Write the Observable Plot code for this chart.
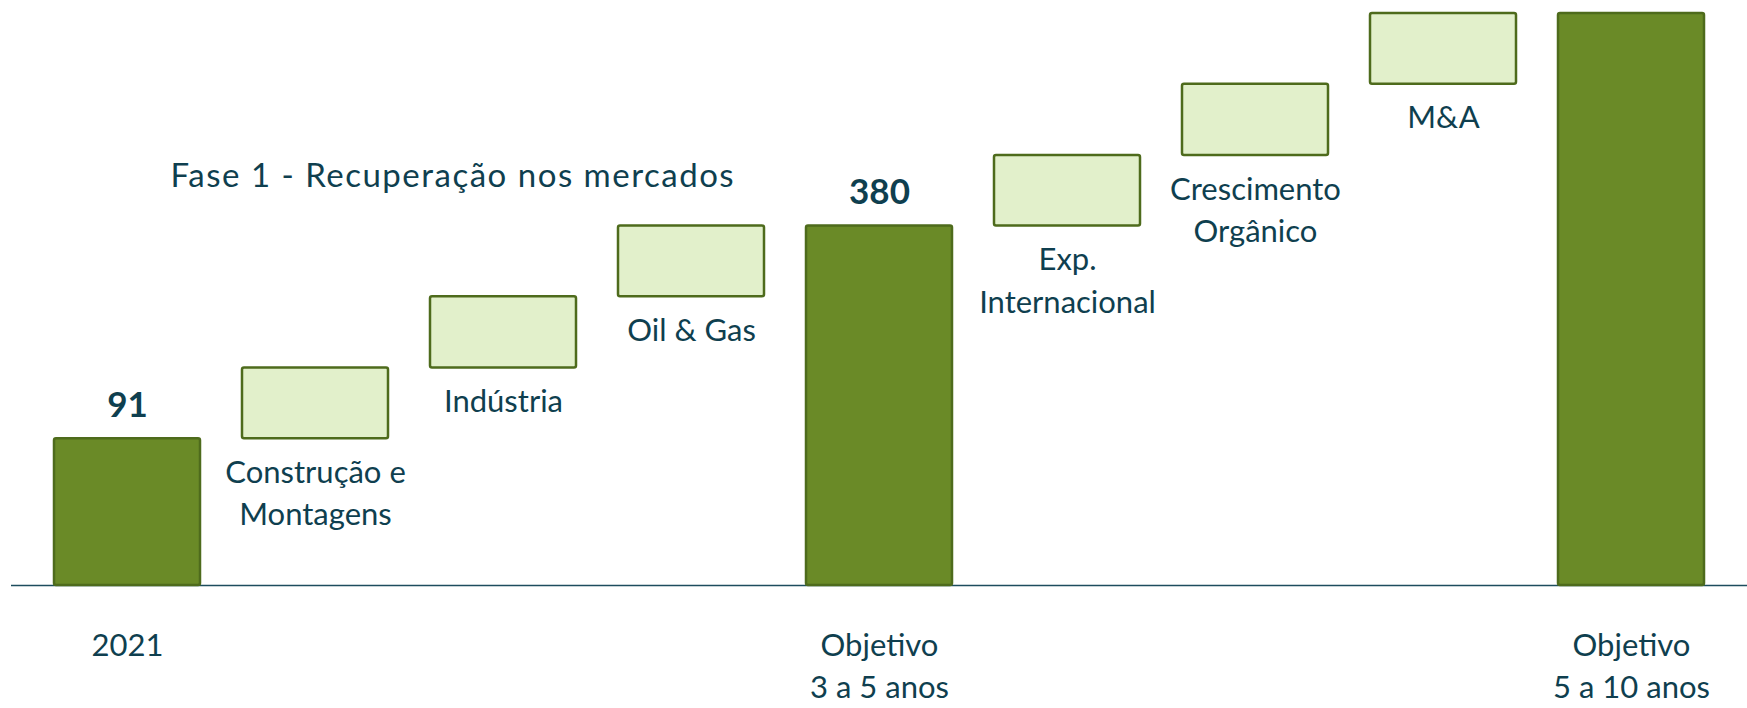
<!DOCTYPE html>
<html>
<head>
<meta charset="utf-8">
<script src="https://cdn.jsdelivr.net/npm/d3@7"></script>
<script src="https://cdn.jsdelivr.net/npm/@observablehq/plot@0.6"></script>
<style>
  html, body { margin: 0; padding: 0; background: #fff; }
  #chart svg { display: block; }
</style>
</head>
<body>
<div id="chart"></div>
<script>
// ---- data ----
const categories = ["2021", "Construção e Montagens", "Indústria", "Oil & Gas", "Objetivo 3 a 5 anos",
  "Exp. Internacional", "Crescimento Orgânico", "M&A", "Objetivo 5 a 10 anos"];
const kinds = ["total", "step", "step", "step", "total", "step", "step", "step", "total"];
const values = [91, 96, 97, 96, 380, 96, 97, 96, 669];
const valueLabels = ["91", "", "", "", "380", "", "", "", ""];
const axisLabels = ["2021", "", "", "", "Objetivo\n3 a 5 anos", "", "", "", "Objetivo\n5 a 10 anos"];
const stepLabels = ["", "Construção e\nMontagens", "Indústria", "Oil & Gas", "",
  "Exp.\nInternacional", "Crescimento\nOrgânico", "M&A", ""];
const phaseTitle = "Fase 1 - Recuperação nos mercados";

// ---- build waterfall table ----
const yFloor = -108.5;
let running = 0;
const rows = categories.map((c, i) => {
  let y1, y2;
  if (kinds[i] === "total") { y1 = yFloor; y2 = values[i]; running = values[i]; }
  else { y1 = running; y2 = running + values[i]; running = y2; }
  return {cat: c, kind: kinds[i], y1, y2, value: values[i],
    valueLabel: valueLabels[i], axisLabel: axisLabels[i], stepLabel: stepLabels[i]};
});

const textColor = "#0f3f4f";
const font = "Lato, 'Noto Sans', sans-serif";

const chart = Plot.plot({
  width: 1747,
  height: 708,
  marginLeft: 11,
  marginRight: 0,
  marginTop: 13,
  marginBottom: 123,
  style: {fontFamily: font, background: "#fff"},
  x: {domain: categories, padding: 0.224, axis: null},
  y: {domain: [yFloor, 669], axis: null},
  marks: [
    Plot.ruleY([yFloor], {stroke: "#1d4d5e", strokeWidth: 1.5}),
    Plot.rectY(rows, {
      x: "cat", y1: "y1", y2: "y2",
      fill: d => d.kind === "total" ? "#6a8a27" : "#e2f0cb",
      stroke: "#4e6b1c", strokeWidth: 2.5, rx: 2
    }),
    Plot.text(rows.filter(d => d.valueLabel), {
      x: "cat", y: "y2", text: "valueLabel",
      lineAnchor: "bottom", dy: -22,
      fontSize: 35, fontWeight: "bold", fill: textColor
    }),
    Plot.text(rows.filter(d => d.stepLabel), {
      x: "cat", y: "y1", text: "stepLabel",
      lineAnchor: "top", dy: 14, lineHeight: 1.367,
      fontSize: 31, fill: textColor
    }),
    Plot.text(rows.filter(d => d.axisLabel), {
      x: "cat", y: yFloor, text: "axisLabel",
      lineAnchor: "top", dy: 40, lineHeight: 1.367,
      fontSize: 31, fill: textColor
    }),
    Plot.text([{cat: categories[1], y: values[4], label: phaseTitle}], {
      x: "cat", y: "y", text: "label",
      textAnchor: "start", lineAnchor: "bottom", dx: -145, dy: -39,
      fontSize: 33, fill: textColor
    })
  ]
});
// widen the phase title's letter spacing to match the reference typeface
d3.select(chart).selectAll("text").filter(function () { return this.textContent === phaseTitle; })
  .style("letter-spacing", "1.5px");
document.getElementById("chart").appendChild(chart);
</script>
</body>
</html>
